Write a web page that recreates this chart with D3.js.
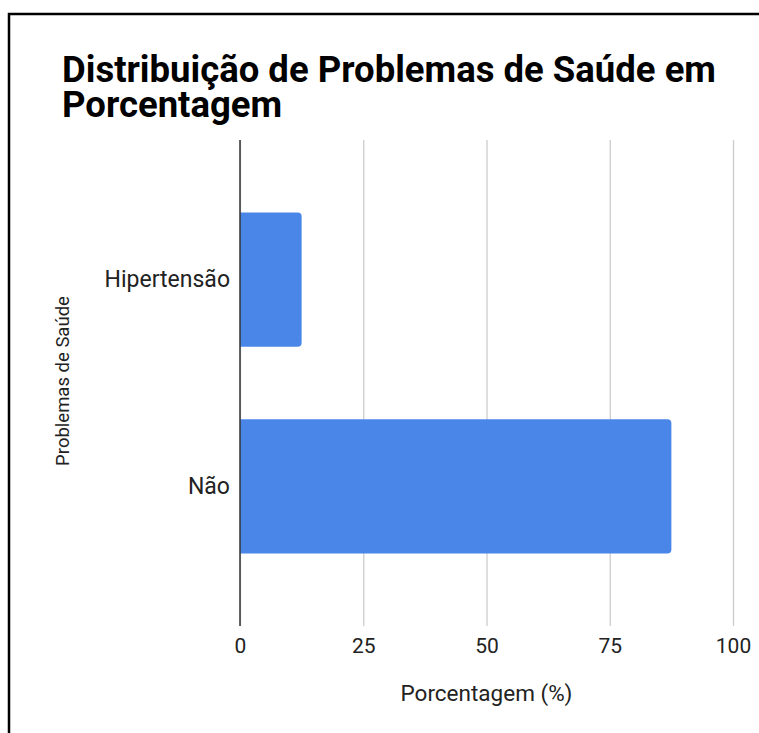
<!DOCTYPE html>
<html>
<head>
<meta charset="utf-8">
<script src="https://cdn.jsdelivr.net/npm/d3@7"></script>
<style>
  html, body { margin: 0; padding: 0; background: #fff; }
  svg { display: block; }
</style>
</head>
<body>
<div id="chart"></div>
<script>
// Health problems, share of respondents (%)
const categories = ["Hipertensão", "Não"];
const values = [12.5, 87.5];
const xTicks = [0, 25, 50, 75, 100];

const titleLines = ["Distribuição de Problemas de Saúde em", "Porcentagem"];
const xTitle = "Porcentagem (%)";
const yTitle = "Problemas de Saúde";

const W = 759, H = 733;
const plot = { left: 240, right: 733, top: 140, bottom: 626 };

const svg = d3.select("#chart").append("svg")
  .attr("width", W).attr("height", H)
  .style("font-family", "Roboto, 'Noto Sans', sans-serif");

svg.append("rect").attr("width", W).attr("height", H).attr("fill", "#fff");

// frame around the card (runs off the right and bottom edges)
svg.append("rect")
  .attr("x", 9).attr("y", 14)
  .attr("width", W + 20).attr("height", H + 20)
  .attr("fill", "none").attr("stroke", "#000").attr("stroke-width", 2.5);

// two-line title set as one text block
svg.append("text")
  .attr("x", 62).attr("y", 82)
  .attr("font-size", 36.5).attr("font-weight", 700).attr("fill", "#000")
  .selectAll("tspan").data(titleLines).join("tspan")
  .attr("x", 62).attr("dy", (d, i) => i === 0 ? 0 : 35)
  .text(d => d);

const x = d3.scaleLinear().domain([0, 100]).range([plot.left, plot.right]);
const y = d3.scaleBand().domain(categories).range([plot.top, plot.bottom])
  .paddingInner(0.35).paddingOuter(0.35);

// vertical gridlines
const grid = d3.axisBottom(x).tickValues(xTicks).tickSize(-(plot.bottom - plot.top)).tickFormat("");
svg.append("g").attr("transform", `translate(0,${plot.bottom})`).call(grid)
  .call(g => g.select(".domain").remove())
  .call(g => g.selectAll("line").attr("stroke", "#cccccc").attr("stroke-width", 1.3));

// bars, rounded on the value end
const r = 4;
svg.append("g").selectAll("path").data(categories).join("path")
  .attr("fill", "#4a86e8")
  .attr("d", (c, i) => {
    const x0 = x(0), x1 = x(values[i]), y0 = y(c), h = y.bandwidth();
    return `M${x0},${y0}H${x1 - r}Q${x1},${y0} ${x1},${y0 + r}V${y0 + h - r}Q${x1},${y0 + h} ${x1 - r},${y0 + h}H${x0}Z`;
  });

// zero baseline
svg.append("line")
  .attr("x1", x(0)).attr("x2", x(0)).attr("y1", plot.top).attr("y2", plot.bottom)
  .attr("stroke", "#333").attr("stroke-width", 1.5);

// x axis labels
const xAxis = d3.axisBottom(x).tickValues(xTicks).tickSize(0).tickPadding(0).tickFormat(d3.format("d"));
svg.append("g").attr("transform", `translate(0,${plot.bottom})`).call(xAxis)
  .call(g => g.select(".domain").remove())
  .call(g => g.selectAll("text").attr("dy", null).attr("y", 27)
    .attr("font-size", 21).attr("fill", "#222").attr("font-family", "Roboto, sans-serif"));

// y axis labels
const yAxis = d3.axisLeft(y).tickSize(0).tickPadding(10);
svg.append("g").attr("transform", `translate(${plot.left},0)`).call(yAxis)
  .call(g => g.select(".domain").remove())
  .call(g => g.selectAll("text").attr("font-size", 23).attr("fill", "#222")
    .attr("font-family", "Roboto, sans-serif"));

// axis titles
svg.append("text")
  .attr("x", (plot.left + plot.right) / 2).attr("y", 701)
  .attr("text-anchor", "middle").attr("font-size", 22.5).attr("fill", "#222")
  .text(xTitle);

svg.append("text")
  .attr("transform", `translate(69,381) rotate(-90)`)
  .attr("text-anchor", "middle").attr("font-size", 18.5).attr("fill", "#222")
  .text(yTitle);
</script>
</body>
</html>
